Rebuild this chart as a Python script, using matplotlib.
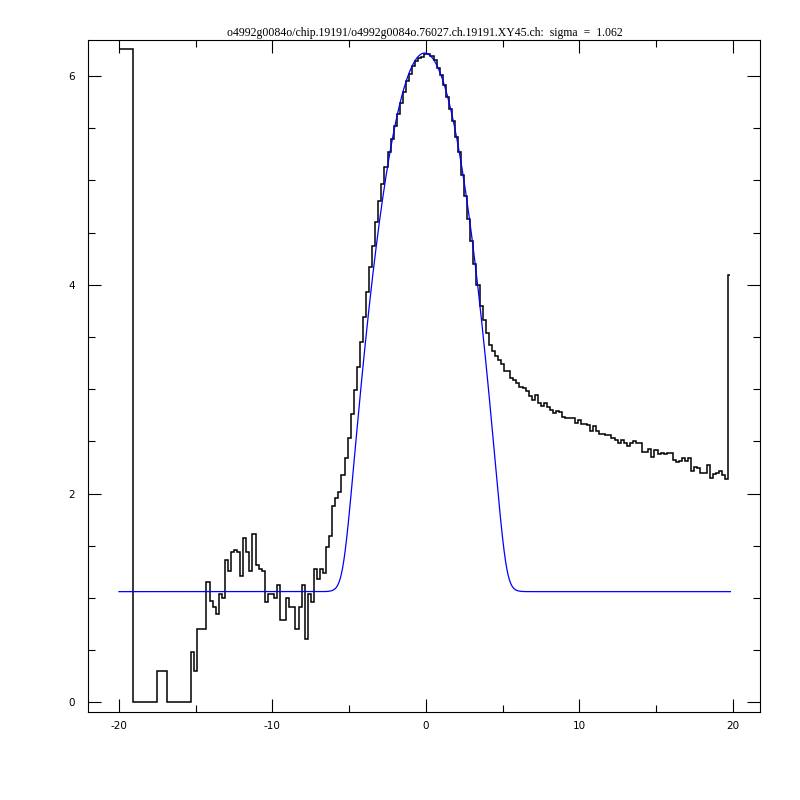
import numpy as np
import matplotlib
matplotlib.use("Agg")
import matplotlib.pyplot as plt
from matplotlib.ticker import MultipleLocator

plt.rcParams['axes.unicode_minus'] = False

title = "o4992g0084o/chip.19191/o4992g0084o.76027.ch.19191.XY45.ch:  sigma  =  1.062"

# histogram of log10(counts): underflow bin, 0.2-wide bins from -19.1 to 19.7, overflow bin
underflow = 6.26
overflow = 4.09
bin_start = -19.1
bin_width = 0.2
log_counts = [
    0, 0, 0, 0, 0, 0, 0, 0,
    0.30, 0.30, 0.30,
    0, 0, 0, 0, 0, 0, 0, 0,
    0.48, 0.30, 0.70, 0.70, 0.70, 1.15, 0.97, 0.91, 0.85, 1.04,
    1.00, 1.36, 1.26, 1.44, 1.46, 1.44, 1.21, 1.57, 1.44, 1.26,
    1.61, 1.32, 1.28, 1.26, 0.96, 1.04, 1.04, 1.00, 1.12, 0.79,
    0.79, 1.00, 0.91, 0.91, 0.70, 0.91, 1.12, 0.61, 1.04, 0.96,
    1.28, 1.18, 1.28, 1.24, 1.49, 1.59,
    1.88, 1.96, 2.01, 2.18, 2.34, 2.53, 2.76, 2.99, 3.21, 3.45,
    3.69, 3.93, 4.17, 4.37, 4.60, 4.80, 4.97, 5.13, 5.27,
    5.40, 5.52, 5.64, 5.74, 5.85, 5.95, 6.02, 6.10, 6.14, 6.17, 6.18, 6.21,
    6.21, 6.19, 6.15, 6.08, 6.01, 5.91, 5.80, 5.68, 5.57, 5.42,
    5.27, 5.05, 4.85, 4.63, 4.42, 4.20,
    4.00, 3.80, 3.66, 3.54, 3.42, 3.37, 3.32, 3.28, 3.24, 3.17,
    3.17, 3.11, 3.09, 3.06, 3.02, 3.01, 2.98, 2.93, 2.90, 2.94,
    2.87, 2.84, 2.87, 2.83, 2.80, 2.77, 2.79, 2.78, 2.73, 2.72,
    2.72, 2.72, 2.68, 2.70, 2.67, 2.67, 2.66, 2.60, 2.65, 2.60,
    2.57, 2.57, 2.56, 2.56, 2.53, 2.51, 2.48, 2.51, 2.48, 2.46,
    2.48, 2.50, 2.48, 2.48, 2.40, 2.40, 2.43, 2.35, 2.42, 2.38,
    2.39, 2.38, 2.39, 2.39, 2.32, 2.30, 2.31, 2.34, 2.31, 2.34,
    2.22, 2.25, 2.24, 2.20, 2.20, 2.27, 2.15, 2.19, 2.20, 2.22, 2.18, 2.14,
]

# fitted gaussian + constant, shown in log10
fit_center = -0.08
fit_sigma = 1.08
fit_peak = 6.22
fit_base = 1.06
x_lo, x_hi = -20.0, 19.85

n = len(log_counts)
edges = np.concatenate([[x_lo], bin_start + bin_width * np.arange(n + 1), [x_hi]])
values = np.concatenate([[underflow], log_counts, [overflow]])

xf = np.linspace(x_lo, x_hi, 2000)
yf = np.log10(10**fit_peak * np.exp(-(xf - fit_center)**2 / (2 * fit_sigma**2)) + 10**fit_base)

fig = plt.figure(figsize=(8, 8), dpi=100)
ax = fig.add_axes([0.1106, 0.1104, 0.8398, 0.8392])

ax.stairs(values, edges, baseline=None, color='black', linewidth=1.1)
ax.plot(xf, yf, color='#0000ff', linewidth=0.9)

ax.set_xlim(-21.99, 21.8)
ax.set_ylim(-0.09, 6.342)

# --- ticks ---
ax.xaxis.set_major_locator(MultipleLocator(10))
ax.xaxis.set_minor_locator(MultipleLocator(5))
ax.yaxis.set_major_locator(MultipleLocator(2))
ax.yaxis.set_minor_locator(MultipleLocator(0.5))
ax.tick_params(which='both', direction='in', top=True, right=True, width=0.8, color='black')
ax.tick_params(which='major', length=9.3, labelsize=7.5)
ax.tick_params(which='minor', length=5)
ax.tick_params(axis='x', which='major', pad=6.5)
ax.tick_params(axis='y', which='major', pad=10)

for spine in ax.spines.values():
    spine.set_linewidth(0.8)

ax.set_title(title, fontsize=8.5, family='Liberation Serif', pad=3)

fig.savefig("out.png", dpi=100)
